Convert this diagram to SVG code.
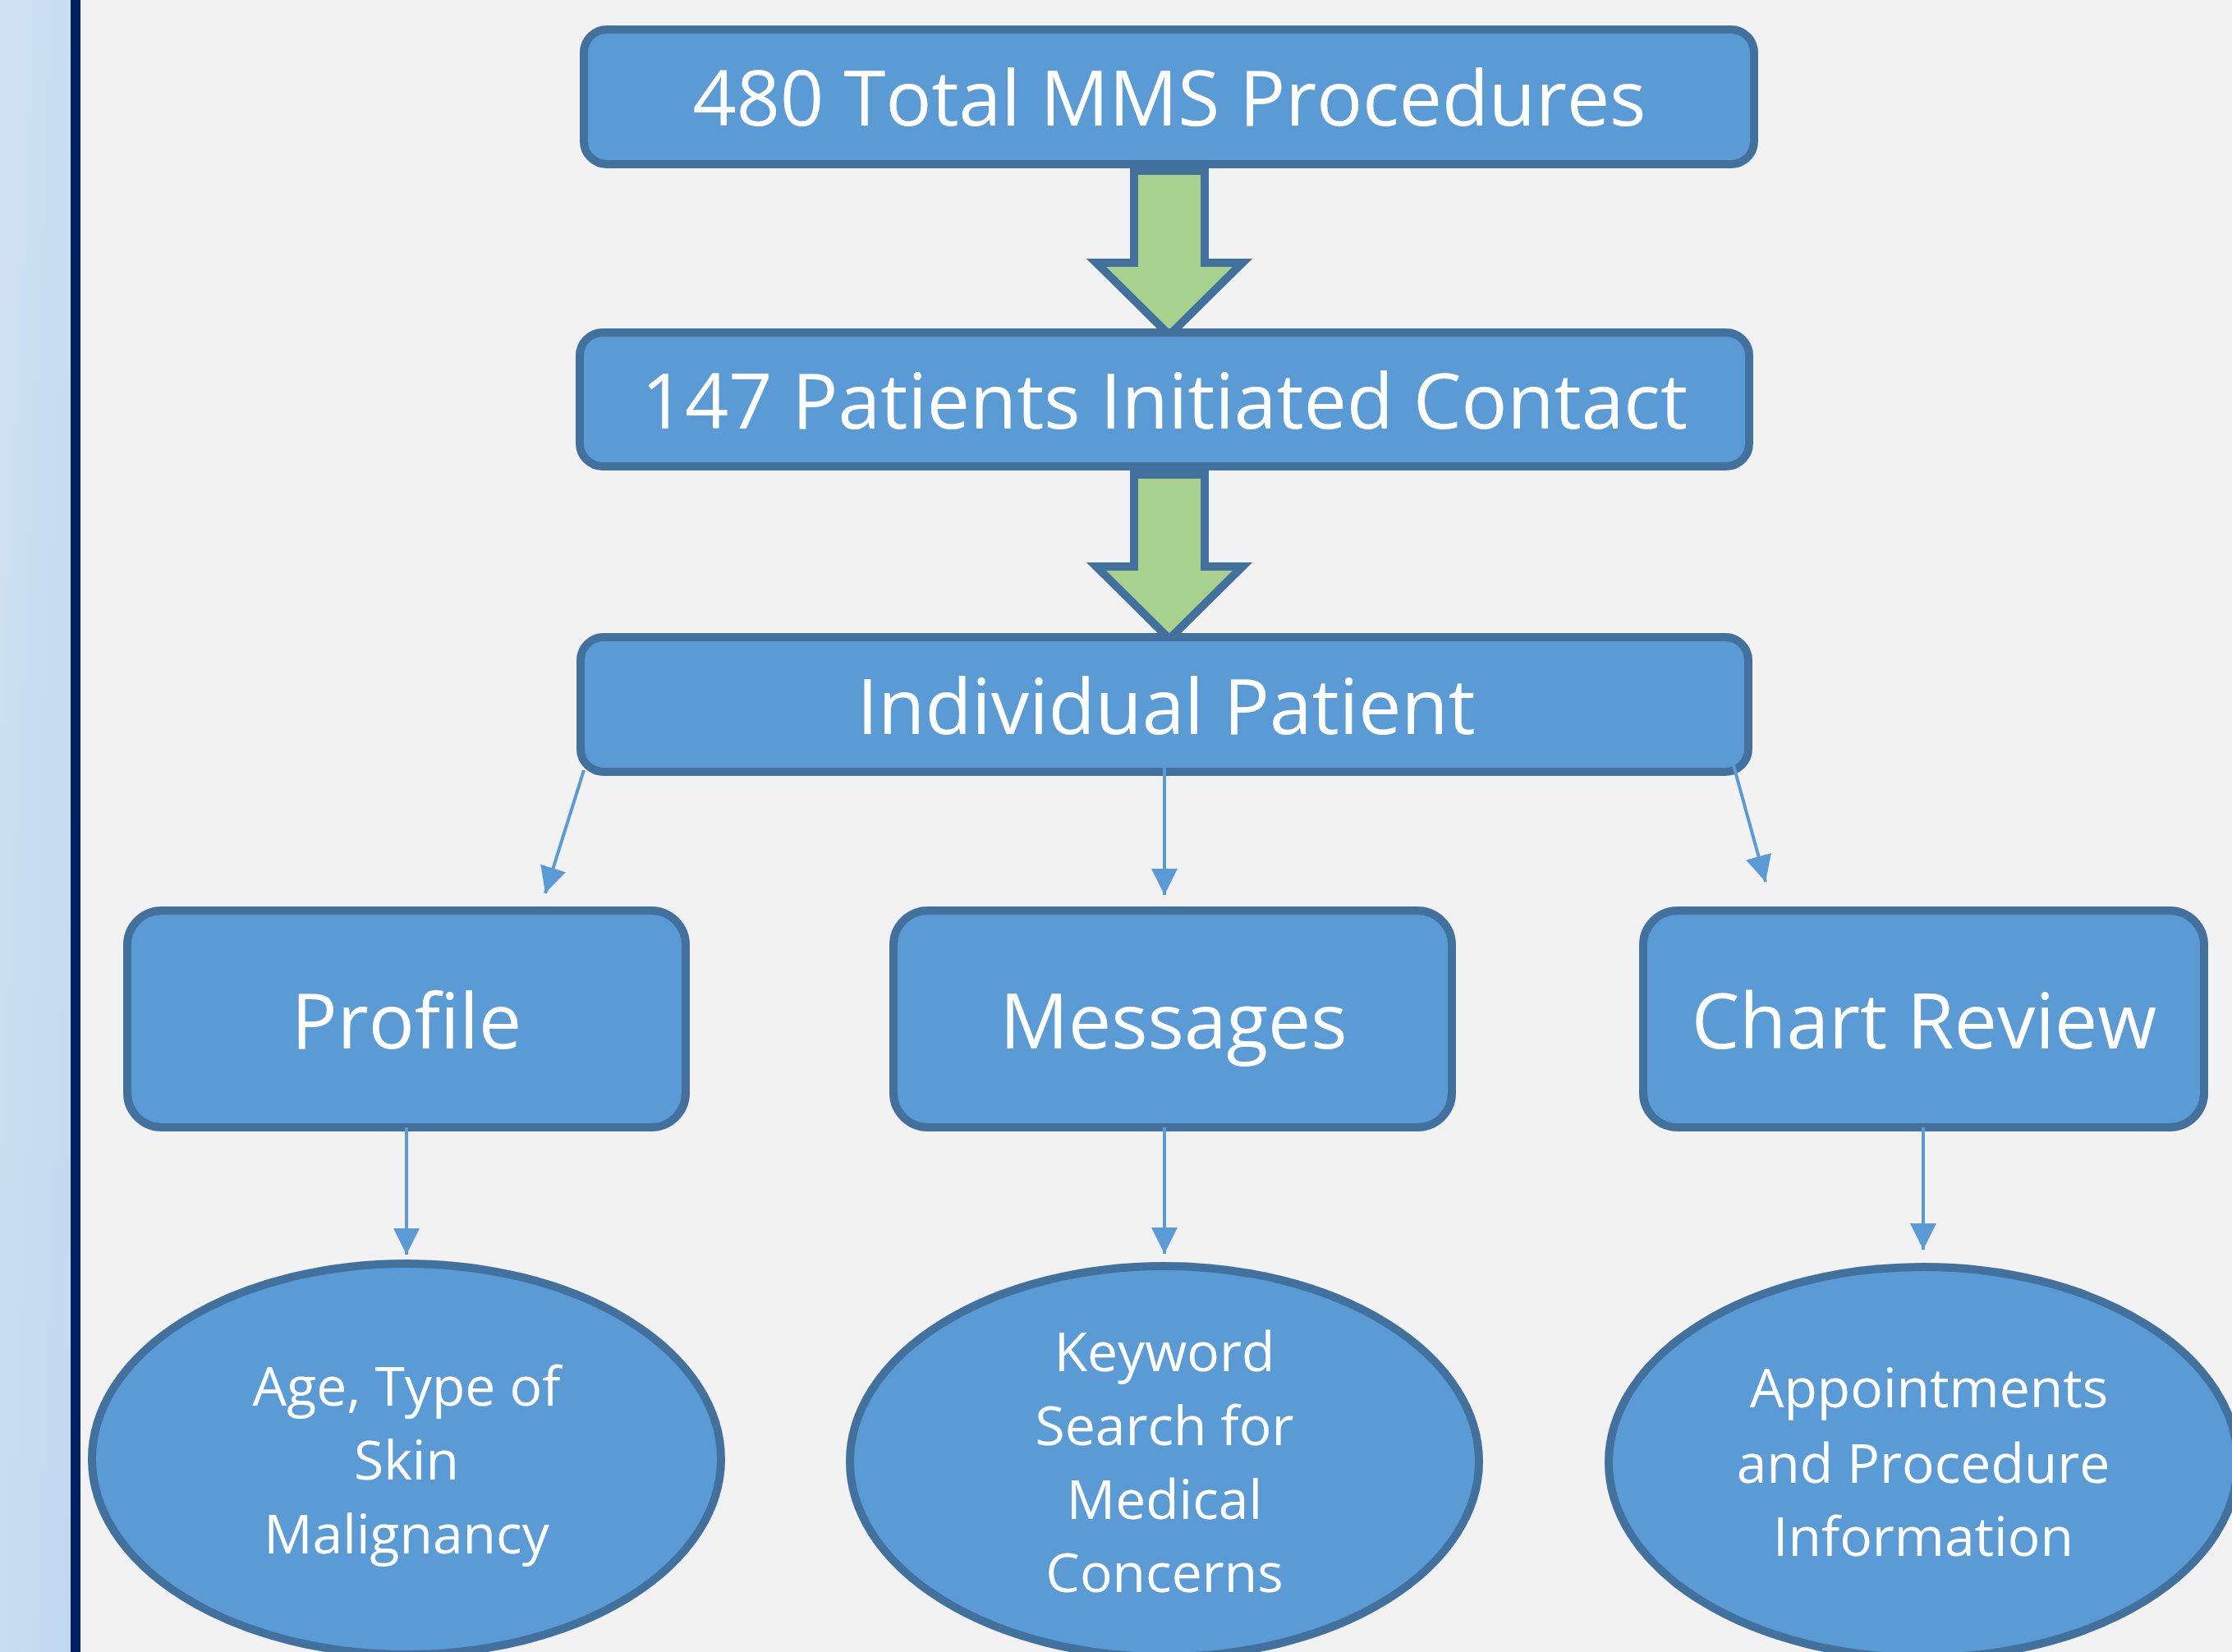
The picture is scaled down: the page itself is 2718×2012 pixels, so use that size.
<svg xmlns="http://www.w3.org/2000/svg" width="2718" height="2012" viewBox="0 0 2718 2012">
<defs>
<linearGradient id="panel" x1="0" y1="0" x2="1" y2="1" gradientUnits="objectBoundingBox">
<stop offset="0" stop-color="#CFE2F3"/>
<stop offset="1" stop-color="#C0D8EF"/>
</linearGradient>
<marker id="ah" markerUnits="userSpaceOnUse" markerWidth="32" markerHeight="32" refX="32" refY="16" orient="auto" viewBox="0 0 32 32">
<path d="M0,0 L32,16 L0,32 Z" fill="#5B9BD5"/>
</marker>
<style>
.box{fill:#5B9BD5;stroke:#41719C;stroke-width:10}
.big{font-family:"Open Sans","Liberation Sans",sans-serif;font-size:93px;fill:#FFFFFF;text-anchor:middle}
.small{font-family:"Open Sans","Liberation Sans",sans-serif;font-size:66px;fill:#FFFFFF;text-anchor:middle}
.flow{fill:#A9D18E;stroke:#41719C;stroke-width:10;stroke-linejoin:miter}
.conn{stroke:#5B9BD5;stroke-width:4;fill:none;marker-end:url(#ah)}
</style>
</defs>
<rect x="0" y="0" width="2718" height="2012" fill="#F2F2F2"/>
<rect x="0" y="0" width="87" height="2012" fill="url(#panel)"/>
<rect x="86" y="0" width="12" height="2012" fill="#002060"/>

<g id="flow-arrows">
<polygon class="flow" points="1381,208 1467,208 1467,320 1513,320 1424,408 1335,320 1381,320"/>
<polygon class="flow" points="1381,578 1467,578 1467,690 1513,690 1424,778 1335,690 1381,690"/>
</g>

<g id="node-total">
<rect class="box" x="711" y="36" width="1425" height="164" rx="28"/>
<text class="big" x="1424" y="153">480 Total MMS Procedures</text>
</g>
<g id="node-contact">
<rect class="box" x="706" y="405" width="1424" height="163" rx="28"/>
<text class="big" x="1418" y="522">147 Patients Initiated Contact</text>
</g>
<g id="node-patient">
<rect class="box" x="707" y="776" width="1422" height="164" rx="28"/>
<text class="big" x="1420" y="894">Individual Patient</text>
</g>
<g id="node-profile">
<rect class="box" x="155" y="1109" width="680" height="264" rx="42"/>
<text class="big" x="495" y="1277">Profile</text>
</g>
<g id="node-messages">
<rect class="box" x="1088" y="1109" width="680" height="264" rx="42"/>
<text class="big" x="1429" y="1277">Messages</text>
</g>
<g id="node-chart">
<rect class="box" x="2001" y="1109" width="683" height="264" rx="42"/>
<text class="big" x="2343" y="1277">Chart Review</text>
</g>
<g id="node-age">
<ellipse class="box" cx="495" cy="1777" rx="383" ry="238"/>
<text class="small" x="495" y="1712">Age, Type of</text>
<text class="small" x="495" y="1802">Skin</text>
<text class="small" x="495" y="1892">Malignancy</text>
</g>
<g id="node-keyword">
<ellipse class="box" cx="1418" cy="1780" rx="383" ry="238"/>
<text class="small" x="1418" y="1670">Keyword</text>
<text class="small" x="1418" y="1760">Search for</text>
<text class="small" x="1418" y="1850">Medical</text>
<text class="small" x="1418" y="1939">Concerns</text>
</g>
<g id="node-appointments">
<ellipse class="box" cx="2342" cy="1781" rx="383" ry="238"/>
<text class="small" x="2349" y="1714">Appointments</text>
<text class="small" x="2342" y="1806">and Procedure</text>
<text class="small" x="2342" y="1895">Information</text>
</g>

<g id="connectors">
<line class="conn" x1="711" y1="938" x2="664" y2="1088"/>
<line class="conn" x1="1418" y1="934" x2="1418" y2="1090"/>
<line class="conn" x1="2111" y1="932" x2="2150" y2="1074"/>
<line class="conn" x1="495" y1="1373" x2="495" y2="1528"/>
<line class="conn" x1="1418" y1="1373" x2="1418" y2="1527"/>
<line class="conn" x1="2342" y1="1373" x2="2342" y2="1522"/>
</g>
</svg>
